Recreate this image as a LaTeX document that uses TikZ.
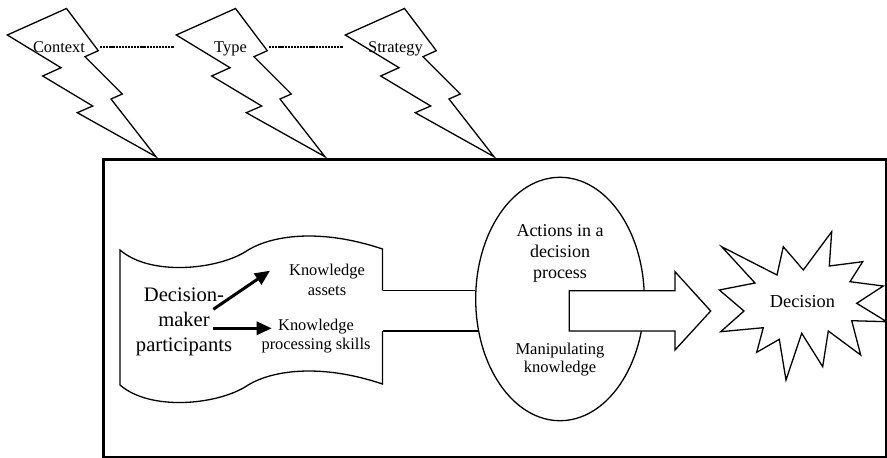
\documentclass[tikz,border=0pt]{standalone}
\usepackage{fontspec}
\setmainfont{Liberation Serif}
\usetikzlibrary{arrows.meta,shapes.geometric}
\begin{document}
\begin{tikzpicture}[x=1pt,y=-1pt,
  outline/.style={draw=black,line width=1.3pt,line join=miter,fill=white},
  txt/.style={inner sep=0pt,align=center,text=black},
  dotline/.style={line width=2.6pt,dash pattern=on 2.2pt off 0.9pt},
  pipe/.style={draw=black,line width=1.3pt},
  boldarrow/.style={line width=3pt,-{Triangle[length=15pt,width=13pt]}},
  fA/.style={font=\fontsize{16.4}{19.4}\selectfont},
  fB/.style={font=\fontsize{20.6}{25}\selectfont},
  fC/.style={font=\fontsize{18}{21}\selectfont},
  fD/.style={font=\fontsize{16.5}{18.3}\selectfont},
]
\useasboundingbox (0,0) rectangle (887,458);

% three lightning bolts
\foreach \dx in {0,169,338}{
  \draw[outline,shift={(\dx,0)}] (66.5,8.5) -- (7.3,35) -- (61,67.7) -- (42.7,76)
    -- (92.7,106) -- (77.3,112.7) -- (156,156.7) -- (111,99) -- (122.3,94)
    -- (85,56.7) -- (98.3,50.7) -- cycle;
}
\node[txt,fA,anchor=base] (ctx) at (59,52) {Context};
\node[txt,fA,anchor=base] (typ) at (230.5,52) {Type};
\node[txt,fA,anchor=base] (stg) at (395.5,52) {Strategy};

% dotted links between the bolts
\coordinate (d1a) at (100,47);
\coordinate (d1b) at (174,47);
\coordinate (d2a) at (269,47);
\coordinate (d2b) at (343,47);
\draw[dotline] (d1a) -- (d1b);
\draw[dotline] (d2a) -- (d2b);

% frame
\draw[line width=3pt] (103,159.5) rectangle (886.8,457.3);

% participants tape
\coordinate (tu) at (382.5,290.7);
\coordinate (tl) at (382.5,331);
\draw[pipe] (tu) -- (382.5,249) .. controls (320,228) and (270,235) .. (245,252)
  .. controls (215,270) and (150,276) .. (120,250) -- (120,385)
  .. controls (150,411) and (215,405) .. (245,387)
  .. controls (270,370) and (320,363) .. (382.5,384) -- (tl);

\node[txt,fB] (dm) at (184,322) {Decision-\\maker\\participants};
\node[txt,fA] (ka) at (327,280) {Knowledge\\assets};
\node[txt,fA] (kp) at (316,336) {Knowledge\\processing skills};

\coordinate (a1s) at (213.3,309.3);
\coordinate (a1e) at (270,270.7);
\coordinate (a2s) at (213.3,328.3);
\coordinate (a2e) at (271.7,328.3);
\draw[boldarrow] (a1s) -- (a1e);
\draw[boldarrow] (a2s) -- (a2e);

% actions ellipse
\node[ellipse,draw=black,line width=1.3pt,minimum width=168.6pt,minimum height=243.4pt,inner sep=0pt] (act) at (560,299) {};
\draw[pipe] (tu) -- (tu -| act.174.4);
\draw[pipe] (tl) -- (tl -| act.201.5);
\node[txt,fC] (actt) at (560,253) {Actions in a\\decision\\process};
\node[txt,fD] (mk) at (560,359.5) {Manipulating\\knowledge};

% block arrow towards the decision
\draw[outline] (569.3,290.7) -- (675,290.7) -- (675,271.7) -- (710.7,311)
  -- (675,350) -- (675,331) -- (569.3,331) -- cycle;

% decision burst
\draw[outline] (721.7,246.7) -- (777,275) -- (783.3,246.7) -- (803.3,270)
  -- (831.7,231.7) -- (829.3,266) -- (862.7,261.7) -- (850,281.7)
  -- (883.3,286) -- (856.7,303.3) -- (886.7,321.7) -- (851.7,320.7)
  -- (860.7,355) -- (828.3,331) -- (822.7,366.7) -- (801.7,333.3)
  -- (786,380) -- (779.3,339.3) -- (756.7,352.3) -- (763.3,327.7)
  -- (720.7,331.7) -- (744,311) -- (719.3,290) -- (755,283) -- cycle;
\node[txt,font=\fontsize{18.3}{21}\selectfont] (dec) at (802.5,301.7) {Decision};
\end{tikzpicture}
\end{document}
